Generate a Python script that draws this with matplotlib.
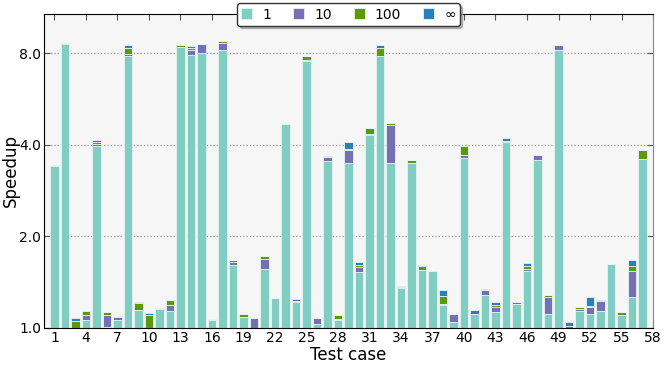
import numpy as np
import matplotlib
matplotlib.use("Agg")
import matplotlib.pyplot as plt
from matplotlib.ticker import FixedLocator, FormatStrFormatter

# cumulative speedup per test case for each tolerance level
cases = list(range(1, 58))
s1 = [3.40, 8.54, 1.00, 1.059, 3.96, 1.01, 1.065, 7.80, 1.148, 1.00,
      1.151, 1.139, 8.35, 7.90, 8.00, 1.059, 8.20, 1.612, 1.086, 1.00,
      1.56, 1.254, 4.69, 1.213, 7.51, 1.031, 3.53, 1.059, 3.47, 1.525,
      4.30, 7.80, 3.48, 1.348, 3.48, 1.552, 1.54, 1.186, 1.043, 3.63,
      1.111, 1.279, 1.131, 4.07, 1.201, 1.533, 3.56, 1.114, 8.16, 1.00,
      1.139, 1.114, 1.134, 1.624, 1.105, 1.263, 3.60]
s10 = [3.43, 8.63, 1.00, 1.100, 4.03, 1.105, 1.086, 7.94, 1.148, 1.00,
       1.151, 1.189, 8.35, 8.20, 8.56, 1.059, 8.63, 1.644, 1.086, 1.078,
       1.68, 1.254, 4.69, 1.223, 7.61, 1.078, 3.65, 1.070, 3.83, 1.583,
       4.33, 7.80, 4.66, 1.362, 3.48, 1.552, 1.54, 1.201, 1.114, 3.71,
       1.111, 1.328, 1.171, 4.07, 1.201, 1.560, 3.69, 1.260, 8.50, 1.00,
       1.157, 1.171, 1.223, 1.624, 1.105, 1.533, 3.60]
s100 = [3.43, 8.63, 1.057, 1.134, 4.08, 1.128, 1.097, 8.29, 1.207, 1.105,
        1.163, 1.235, 8.50, 8.29, 8.56, 1.068, 8.76, 1.669, 1.111, 1.078,
        1.725, 1.254, 4.69, 1.223, 7.80, 1.078, 3.65, 1.105, 3.86, 1.612,
        4.54, 8.31, 4.72, 1.362, 3.55, 1.600, 1.54, 1.269, 1.114, 3.97,
        1.111, 1.328, 1.192, 4.11, 1.216, 1.603, 3.69, 1.285, 8.50, 1.013,
        1.171, 1.183, 1.223, 1.624, 1.128, 1.603, 3.83]
sinf = [3.43, 8.63, 1.078, 1.134, 4.16, 1.128, 1.097, 8.50, 1.219, 1.122,
        1.163, 1.235, 8.50, 8.45, 8.56, 1.068, 8.76, 1.669, 1.111, 1.078,
        1.725, 1.254, 4.69, 1.244, 7.80, 1.078, 3.68, 1.105, 4.08, 1.644,
        4.54, 8.50, 4.72, 1.375, 3.55, 1.612, 1.54, 1.335, 1.114, 3.97,
        1.148, 1.341, 1.213, 4.20, 1.216, 1.636, 3.69, 1.285, 8.50, 1.043,
        1.171, 1.260, 1.235, 1.624, 1.128, 1.673, 3.83]
labels = ["1", "10", "100", "\u221e"]
colors = ["#80cdc1", "#7570b3", "#5a9a0a", "#2b7fbb"]

fig = plt.figure(figsize=(6.65, 3.66), dpi=100)
ax = fig.add_axes([0.066, 0.104, 0.916, 0.858])
ax.set_facecolor("#f6f6f6")

x = np.array(cases)
bottom = np.ones(len(cases))
for vals, lab, col in zip([s1, s10, s100, sinf], labels, colors):
    vals = np.array(vals)
    ax.bar(x, vals - bottom, bottom=bottom, width=0.82, color=col,
           edgecolor="#e8f4f2", linewidth=0.6, label=lab)
    bottom = vals

ax.set_yscale("log", base=2)
ax.set_ylim(1.0, 10.76)
ax.set_xlim(0, 58)
ax.yaxis.set_major_locator(FixedLocator([1, 2, 4, 8]))
ax.yaxis.set_major_formatter(FormatStrFormatter("%.1f"))
ax.yaxis.set_minor_locator(FixedLocator([]))
ax.set_xticks(range(1, 59, 3))
ax.grid(axis="y", color="#999999", linestyle=":", linewidth=0.9)
ax.set_axisbelow(True)
ax.tick_params(axis="both", direction="in", labelsize=10, top=True, right=True,
               length=4, color="#555555", pad=2)
for side in ["left", "top", "bottom"]:
    ax.spines[side].set_color("black")
ax.spines["right"].set_color("#888888")

ax.set_xlabel("Test case", fontsize=12, labelpad=1)
ax.set_ylabel("Speedup", fontsize=12)
ax.yaxis.set_label_coords(-0.039, 0.5)

leg = ax.legend(loc="center", bbox_to_anchor=(0.5, 0.998), ncol=4, fontsize=10,
                fancybox=True, shadow={"color": "0.55", "alpha": 0.6, "ox": 2, "oy": -2},
                framealpha=1, edgecolor="#333333",
                handlelength=0.8, handleheight=0.8, handletextpad=0.7,
                columnspacing=1.6, borderpad=0.3)

plt.savefig("out.png", dpi=100)
